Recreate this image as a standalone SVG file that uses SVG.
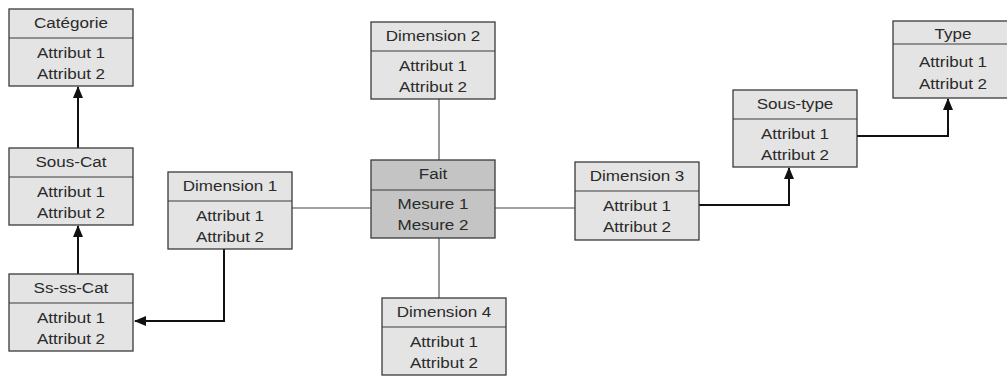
<svg xmlns="http://www.w3.org/2000/svg" width="1007" height="376" viewBox="0 0 1007 376">
  <style>
    .box { fill: #e4e4e4; stroke: #3a3a3a; stroke-width: 1.3; }
    .fact { fill: #c4c4c4; }
    .sep { stroke: #3a3a3a; stroke-width: 1.2; }
    text { font-family: "Liberation Sans", Arial, sans-serif; font-size: 15.5px; fill: #2a2a2a; text-anchor: middle;
           transform-box: fill-box; transform-origin: center; transform: scaleX(1.1); }
    .link { fill: none; stroke: #444; stroke-width: 1.1; }
    .ref { fill: none; stroke: #111; stroke-width: 2; marker-end: url(#head); }
  </style>
  <defs>
    <marker id="head" markerUnits="userSpaceOnUse" markerWidth="12" markerHeight="12" viewBox="0 0 12 12" refX="11" refY="6" orient="auto">
      <path d="M0,1 L12,6 L0,11 Z" fill="#111"/>
    </marker>
  </defs>

  <!-- connectors -->
  <g id="connectors">
    <path class="link" d="M292,208 H371"/>
    <path class="link" d="M495,208 H575"/>
    <path class="link" d="M439,99 V160"/>
    <path class="link" d="M439,238 V298"/>
    <path class="ref" d="M78,148 V87"/>
    <path class="ref" d="M78,274 V226"/>
    <path class="ref" d="M224,249 V321 H135"/>
    <path class="ref" d="M699,205 H789 V168"/>
    <path class="ref" d="M857,136 H948 V99"/>
  </g>

  <g id="categorie">
    <rect class="box" x="9" y="9" width="124" height="77"/>
    <line class="sep" x1="9" y1="38" x2="133" y2="38"/>
    <text x="71" y="28">Catégorie</text>
    <text x="71" y="58">Attribut 1</text>
    <text x="71" y="79">Attribut 2</text>
  </g>

  <g id="sous-cat">
    <rect class="box" x="9" y="148" width="124" height="77"/>
    <line class="sep" x1="9" y1="177" x2="133" y2="177"/>
    <text x="71" y="167">Sous-Cat</text>
    <text x="71" y="197">Attribut 1</text>
    <text x="71" y="218">Attribut 2</text>
  </g>

  <g id="ss-ss-cat">
    <rect class="box" x="9" y="274" width="124" height="77"/>
    <line class="sep" x1="9" y1="303" x2="133" y2="303"/>
    <text x="71" y="293">Ss-ss-Cat</text>
    <text x="71" y="323">Attribut 1</text>
    <text x="71" y="344">Attribut 2</text>
  </g>

  <g id="dimension1">
    <rect class="box" x="168" y="172" width="124" height="77"/>
    <line class="sep" x1="168" y1="201" x2="292" y2="201"/>
    <text x="230" y="191">Dimension 1</text>
    <text x="230" y="221">Attribut 1</text>
    <text x="230" y="242">Attribut 2</text>
  </g>

  <g id="dimension2">
    <rect class="box" x="371" y="22" width="124" height="77"/>
    <line class="sep" x1="371" y1="51" x2="495" y2="51"/>
    <text x="433" y="41">Dimension 2</text>
    <text x="433" y="71">Attribut 1</text>
    <text x="433" y="92">Attribut 2</text>
  </g>

  <g id="fait">
    <rect class="box fact" x="371" y="160" width="124" height="78"/>
    <line class="sep" x1="371" y1="190" x2="495" y2="190"/>
    <text x="433" y="179">Fait</text>
    <text x="433" y="209">Mesure 1</text>
    <text x="433" y="230">Mesure 2</text>
  </g>

  <g id="dimension4">
    <rect class="box" x="382" y="298" width="124" height="77"/>
    <line class="sep" x1="382" y1="327" x2="506" y2="327"/>
    <text x="444" y="317">Dimension 4</text>
    <text x="444" y="347">Attribut 1</text>
    <text x="444" y="368">Attribut 2</text>
  </g>

  <g id="dimension3">
    <rect class="box" x="575" y="162" width="124" height="78"/>
    <line class="sep" x1="575" y1="191" x2="699" y2="191"/>
    <text x="637" y="181">Dimension 3</text>
    <text x="637" y="211">Attribut 1</text>
    <text x="637" y="232">Attribut 2</text>
  </g>

  <g id="sous-type">
    <rect class="box" x="733" y="90" width="124" height="77"/>
    <line class="sep" x1="733" y1="119" x2="857" y2="119"/>
    <text x="795" y="109">Sous-type</text>
    <text x="795" y="139">Attribut 1</text>
    <text x="795" y="160">Attribut 2</text>
  </g>

  <g id="type">
    <rect class="box" x="893" y="21" width="120" height="77"/>
    <line class="sep" x1="893" y1="44" x2="1013" y2="44"/>
    <text x="953" y="39">Type</text>
    <text x="953" y="67">Attribut 1</text>
    <text x="953" y="89">Attribut 2</text>
  </g>
</svg>
